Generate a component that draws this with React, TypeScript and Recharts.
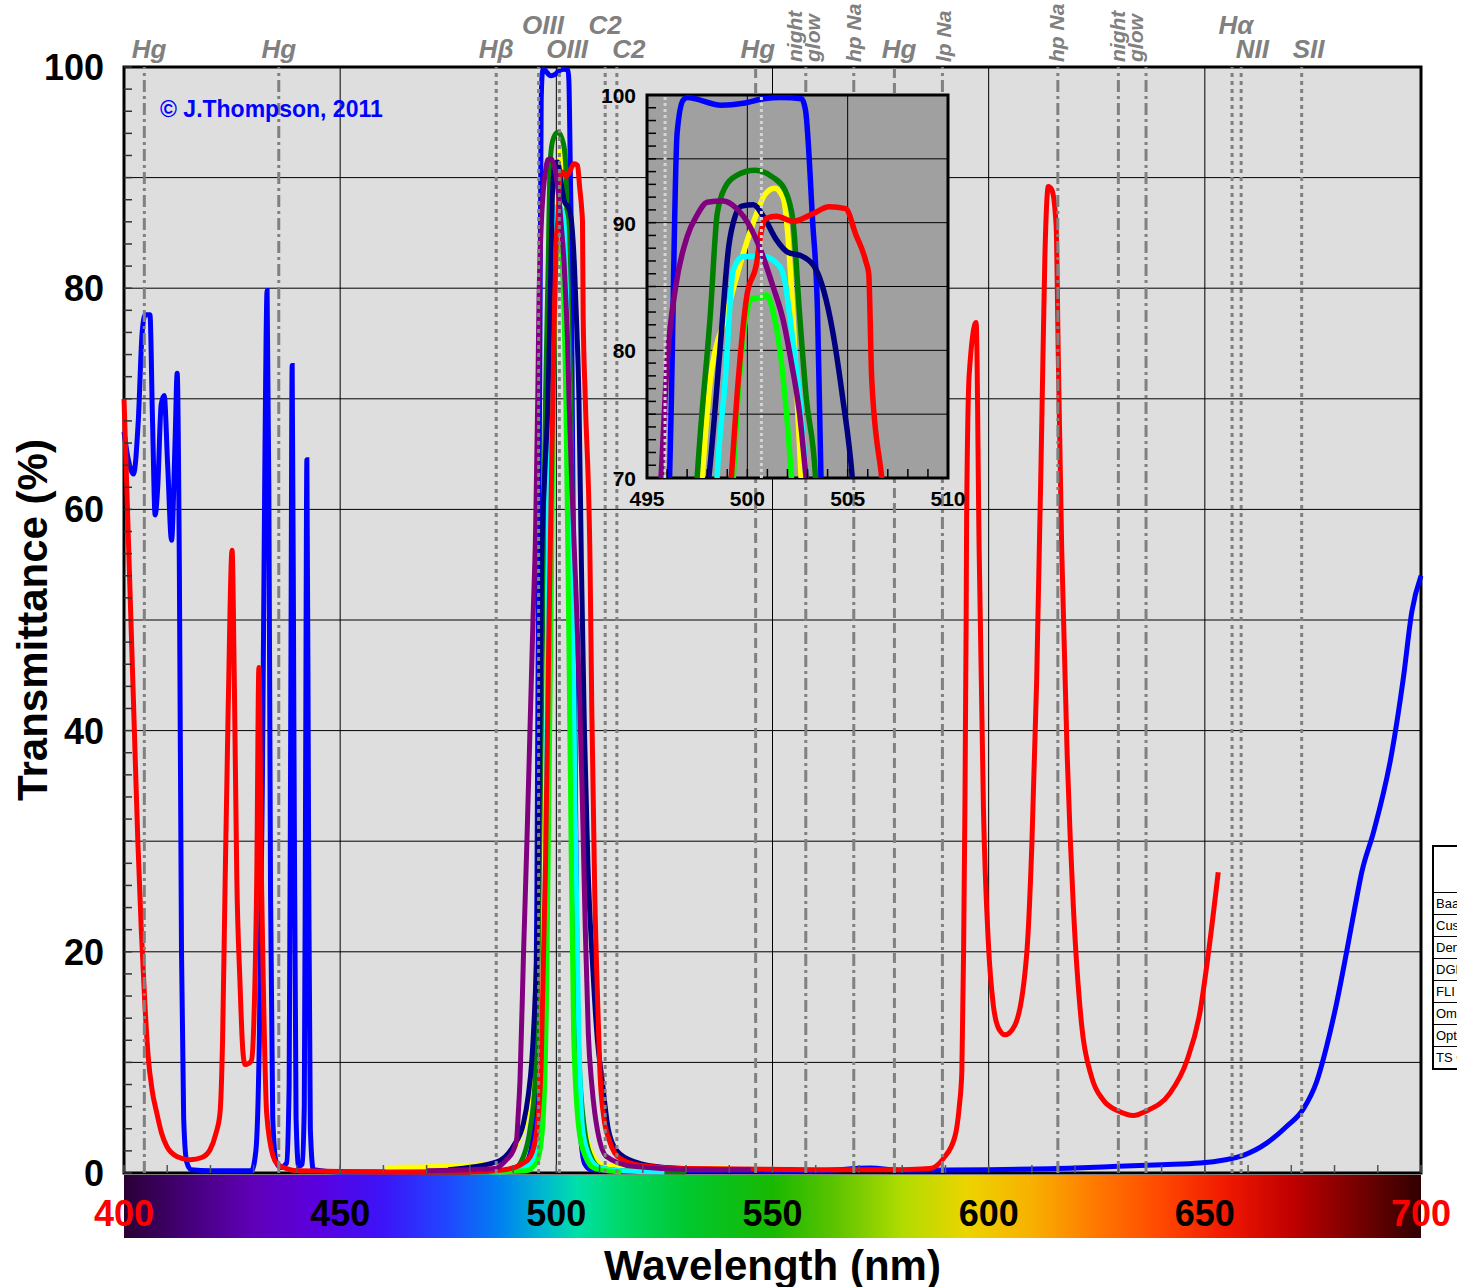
import React from 'react';
import {
  LineChart,
  Line,
  XAxis,
  YAxis,
  CartesianGrid,
  ReferenceLine,
  ReferenceArea,
  Legend,
} from 'recharts';

type Pt = [number, number];

// transmittance curves: [wavelength nm, T %]
const baader: Pt[] = [
  [400, 67], [401, 64.5], [402.2, 63.2], [403.3, 68], [404.2, 76], [404.9, 77.6], [406, 77.6], [406.6, 68],
  [407.2, 59.5], [407.8, 62], [408.6, 69.5], [409.3, 70.3], [410.1, 64], [411, 57.2], [411.8, 66], [412.3, 72.3],
  [412.8, 55], [413.3, 20], [413.8, 5], [414.5, 1], [415.5, 0.3], [420, 0.2], [429.5, 0.2], [430.5, 2],
  [431.3, 12], [432, 35], [432.6, 65], [433.1, 79.8], [433.5, 62], [433.9, 25], [434.4, 5], [435.2, 1],
  [436.2, 0.5], [437.6, 0.9], [438.2, 8], [438.6, 45], [438.9, 73], [439.3, 40], [439.8, 5], [440.4, 0.6],
  [441.2, 0.8], [441.7, 6], [442, 35], [442.3, 64.5], [442.7, 30], [443.1, 4], [443.8, 0.3], [450, 0.1],
  [485, 0.1], [490, 0.2], [492.5, 0.5], [493.5, 1.2], [494.5, 3], [495.1, 8], [495.5, 25], [495.9, 55],
  [496.2, 75], [496.5, 97], [496.8, 99.6], [497, 99.8], [498.7, 99.2], [499.8, 99.35], [500.8, 99.7],
  [501.7, 99.8], [502.7, 99.7], [502.9, 98.8], [503.25, 90.2], [503.5, 82.9], [503.67, 70], [504, 55],
  [504.4, 35], [504.8, 18], [505.2, 8], [505.7, 3], [506.6, 0.8], [508, 0.3], [520, 0.2], [560, 0.2],
  [572.6, 0.45], [580, 0.25], [600, 0.3], [620, 0.45], [630, 0.6], [640, 0.75], [648.9, 0.9], [658.9, 1.6],
  [664.3, 2.7], [668.9, 4.2], [672.8, 5.8], [675.9, 8.3], [678.2, 11.5], [680.5, 15.4], [682.8, 20],
  [684.7, 24], [686.3, 27.2], [689, 30.8], [693.2, 37.9], [695.9, 44.7], [697.9, 50.8], [700, 54],
];

const customSci: Pt[] = [
  [460.4, 0.5], [475, 0.6], [487, 0.9], [489.3, 1.6], [491.6, 3.3], [493.5, 6], [495, 12], [496.3, 30],
  [497.2, 55], [497.75, 70], [498.16, 77.7], [498.98, 82.9], [499.8, 87.6], [500.46, 90.7], [500.87, 92.2],
  [501.37, 92.7], [501.8, 91.9], [502, 89.4], [502.27, 82.9], [502.68, 70], [503.2, 50], [503.8, 30],
  [504.5, 15], [505.5, 7], [506.8, 3.6], [508.6, 1.5], [511, 0.7], [520, 0.5], [540, 0.5],
];

const denkmeier: Pt[] = [
  [470, 0.1], [485, 0.1], [490, 0.3], [492.4, 1.5], [493.9, 3.9], [495.1, 8.4], [495.8, 20], [496.5, 40],
  [497, 55], [497.5, 70], [498.16, 82.9], [498.5, 90.7], [498.9, 92.8], [499.47, 93.7], [500.38, 94.1],
  [501.28, 93.55], [501.86, 92.6], [502.27, 90.2], [502.6, 82.9], [502.93, 76.4], [503.4, 70], [503.8, 55],
  [504.2, 35], [504.6, 20], [505.3, 10], [506.5, 4], [508, 1.5], [510, 0.5], [515, 0.2], [530, 0.1],
];

const dgm: Pt[] = [
  [480, 0.1], [487, 0.1], [493.1, 0.6], [495.1, 1.5], [496.2, 5.4], [496.7, 8.4], [497.3, 20], [497.9, 45],
  [498.2, 60], [498.49, 70], [498.9, 77.7], [499.3, 86.3], [499.8, 87.35], [500.8, 87.35], [501.6, 86.6],
  [501.86, 85.5], [502.2, 81.6], [502.6, 76.4], [502.93, 70], [503.7, 55], [504.3, 34], [505.2, 12.6],
  [506.2, 3.6], [508, 1.2], [510, 0.5], [515, 0.2], [525, 0.1],
];

const fli: Pt[] = [
  [485, 0.1], [493, 0.2], [495.5, 1], [496.8, 4], [497.7, 15], [498.3, 35], [498.9, 55], [499.3, 70],
  [499.6, 77.7], [499.97, 82.9], [500.2, 84], [500.8, 84.2], [500.95, 84.35], [501.3, 82.9], [501.6, 80.3],
  [501.95, 75.1], [502.2, 70], [502.7, 55], [503.3, 34], [504, 12.6], [505.2, 4], [506.7, 1.5],
  [508.9, 0.4], [515, 0.1],
];

const omega: Pt[] = [
  [475, 0.3], [486.2, 1], [490, 2.4], [492.4, 4.5], [493.5, 7], [494.3, 10], [495, 15], [495.6, 22],
  [496.2, 40], [496.6, 55], [497.3, 63], [498.08, 70], [498.65, 80.3], [499.07, 88.1], [499.39, 90.5],
  [499.72, 91.3], [500.3, 91.4], [500.8, 90.5], [501.45, 88.65], [502, 87.7], [502.76, 87.35], [503.4, 86.4],
  [504.24, 81.6], [504.74, 76.4], [505.23, 70], [505.8, 55], [506.5, 40], [507.3, 28], [508.5, 18],
  [509.5, 12], [510.6, 8.4], [512, 4], [514, 2], [518.2, 1], [525, 0.5], [541, 0.3], [548, 0.3],
];

const optolong: Pt[] = [
  [400, 70], [400.8, 60], [401.6, 50], [402.4, 40], [403.2, 30], [404, 22], [404.8, 15.5], [405.6, 10.5],
  [406.5, 7.5], [407.6, 5.4], [408.7, 3.6], [409.9, 2.4], [412.2, 1.5], [415.3, 1.2], [418, 1.4], [419.9, 2.1],
  [421.2, 3.5], [422.2, 5.4], [422.8, 12], [423.4, 26.5], [424.1, 42], [425, 56.3], [425.5, 45], [426.1, 26.5],
  [426.8, 17.5], [427.5, 11], [428, 9.8], [428.8, 9.9], [429.5, 10.2], [430.1, 14.5], [430.7, 26.5],
  [431.2, 45.7], [431.8, 26.5], [432.2, 17.5], [433, 5.4], [434.5, 1.5], [435.5, 0.8], [437.6, 0.4],
  [440, 0.2], [460, 0.1], [480, 0.1], [488, 0.3], [492, 0.8], [494, 1.5], [495.5, 3.9], [496.5, 10],
  [497.5, 28], [498.4, 52], [499.2, 70], [499.55, 77.7], [499.97, 84.2], [500.46, 86.8], [500.7, 89.4],
  [500.95, 90.35], [501.45, 90.5], [502.27, 90.1], [503.26, 90.7], [504.08, 91.25], [504.9, 91.1],
  [505.4, 89.1], [505.9, 87], [506.05, 86], [506.2, 77.7], [506.7, 70], [507.8, 55], [508.2, 42],
  [508.9, 25], [509.6, 15], [510.1, 9], [511, 5], [512.2, 3], [513.5, 1.8], [515.3, 1.2], [518, 0.8],
  [521.7, 0.6], [530, 0.4], [560, 0.3], [580, 0.3], [586.4, 0.4], [589.5, 1.3], [592.2, 3.3], [593.2, 6],
  [593.8, 9.2], [594.2, 20], [594.5, 32.8], [594.8, 50.5], [594.9, 59.2], [595.5, 72.2], [597.1, 76.9],
  [597.8, 56.3], [598.8, 32.8], [599.9, 21], [601.1, 15.1], [602.4, 13], [603.8, 12.5], [606.1, 13.4],
  [608.8, 19.8], [610, 29.8], [611.1, 44.5], [612.3, 68.1], [613, 82.8], [613.8, 89.2], [614.6, 88.9],
  [615.6, 85.7], [616.1, 73.9], [616.9, 56.3], [618.1, 38.6], [619.6, 24], [621.5, 13.4], [623.8, 8.7],
  [626.5, 6.6], [630, 5.6], [633.5, 5.2], [636.5, 5.6], [641.9, 7.2], [645.8, 10.1], [648.9, 14.6],
  [650.8, 19.8], [653.1, 27.2],
];

const tsOiii: Pt[] = [
  [470, 0.2], [480, 0.3], [485.8, 0.4], [488.5, 1.2], [490, 2], [490.8, 3], [491.2, 5.4], [491.6, 8.4],
  [492.4, 19.7], [493.2, 30], [493.9, 40], [494.6, 50], [495.2, 58], [495.7, 70], [496, 79], [496.43, 85],
  [497, 88.9], [497.5, 90.6], [497.99, 91.6], [498.8, 91.7], [499.47, 91.1], [500.13, 89.7], [500.6, 88.1],
  [501.28, 85], [501.78, 82.4], [502.2, 79], [502.6, 75.1], [502.93, 70], [503.6, 62], [504.5, 53],
  [505.3, 44], [506, 34], [506.7, 22], [507.4, 12.6], [508.2, 8], [508.9, 5.4], [509.5, 3.9], [511.6, 1.5],
  [517.8, 0.6], [531.7, 0.3], [545, 0.3],
];

const filterNames = [
  'Baader OIII', 'Custom Scientific OIII', 'Denkmeier OIII', 'DGM OIII',
  'FLI OIII', 'Omega OIII', 'Optolong OIII', 'TS OIII',
];
const filterCurves = [baader, customSci, denkmeier, dgm, fli, omega, optolong, tsOiii];
const filterColors = ['#0000ff', '#ffff00', '#008000', '#00ffff', '#00ff00', '#000080', '#ff0000', '#800080'];

// emission / light-pollution lines
const refWl = [404.7, 435.8, 486.1, 495.9, 500.7, 511.3, 514.0, 546.1, 557.7, 568.8, 578.2, 589.3, 616.0, 630.0, 636.4, 656.3, 658.4, 672.4];
const refKind = ['dd', 'dd', 'dot', 'dot', 'dot', 'dot', 'dot', 'dash', 'dd', 'dd', 'dash', 'dd', 'dd', 'dd', 'dd', 'dot', 'dot', 'dot'];

const tagText = ['Hg', 'Hg', 'Hβ', 'OIII', 'OIII', 'C2', 'C2', 'Hg', 'night glow', 'hp Na', 'Hg', 'lp Na', 'hp Na', 'night glow', 'Hα', 'NII', 'SII'];
const tagWl = [405.8, 435.8, 486.1, 496.9, 502.5, 511.3, 516.8, 546.6, 557.4, 568.8, 579.3, 589.6, 615.8, 632.0, 657.2, 661.0, 674.0];
const tagRow = ['low', 'low', 'low', 'high', 'low', 'high', 'low', 'low', 'rot2', 'rot', 'low', 'rot', 'rot', 'rot2', 'high', 'low', 'low'];

const xLabelTicks = [400, 450, 500, 550, 600, 650, 700];
const yLabelTicks = [0, 20, 40, 60, 80, 100];
const yGrid = [10, 20, 30, 40, 50, 60, 70, 80, 90];
const xGrid = [450, 500, 550, 600, 650];

const insetXLabels = [495, 500, 505, 510];
const insetYLabels = [70, 80, 90, 100];
const insetYGrid = [75, 80, 85, 90, 95];
const insetXGrid = [500, 505];
const insetRefWl = [495.9, 500.7];

const specWl = [400, 415, 430, 445, 460, 475, 487, 497, 505, 515, 530, 550, 565, 580, 595, 610, 625, 640, 655, 670, 685, 700];
const specColor = ['#2a0035', '#45007a', '#6000b8', '#5a00e0', '#3c14f8', '#2048ff', '#0080f0', '#00b8d0', '#00e0a8', '#00d868',
  '#00c830', '#18b800', '#60c400', '#b0dc00', '#ecd400', '#f8b000', '#ff7800', '#ff4800', '#f01800', '#c00000', '#780000', '#300000'];

const range = (a: number, b: number, s: number) => {
  const out: number[] = [];
  for (let v = a; v <= b + 1e-9; v += s) out.push(Math.round(v * 100) / 100);
  return out;
};
const toRows = (pts: Pt[]) => pts.map(([w, t]) => ({ w, t }));

const FONT = '"Liberation Sans", Arial, Helvetica, sans-serif';
const dashMap: Record<string, string> = { dd: '12 4 3 4', dash: '10 5', dot: '4 4' };
const tagFont = { fontSize: 26, fontWeight: 700, fontStyle: 'italic', fill: '#808080', fontFamily: FONT };
const rotFont = { fontSize: 21, fontWeight: 700, fontStyle: 'italic', fill: '#808080', fontFamily: FONT };

const MainYTick = ({ x, y, payload }: any) => {
  const v = payload.value;
  return (
    <g>
      <line x1={x} x2={x + 8} y1={y} y2={y} stroke="#333" strokeWidth={1.5} />
      {yLabelTicks.includes(v) && (
        <text x={x - 20} y={y + 13} textAnchor="end" fontSize={36} fontWeight={700} fill="#000" fontFamily={FONT}>{v}</text>
      )}
    </g>
  );
};

const MainXTick = ({ x, y, payload }: any) => {
  const v = payload.value;
  return (
    <g>
      <line x1={x} x2={x} y1={y} y2={y - 8} stroke="#555" strokeWidth={1.5} />
      {xLabelTicks.includes(v) && (
        <text x={x} y={y + 53} textAnchor="middle" fontSize={36} fontWeight={700}
          fill={v === 400 || v === 700 ? '#ff0000' : '#000'} fontFamily={FONT}>{v}</text>
      )}
    </g>
  );
};

const InsetYTick = ({ x, y, payload }: any) => {
  const v = payload.value;
  return (
    <g>
      <line x1={x} x2={x + 9} y1={y} y2={y} stroke="#000" strokeWidth={1.5} />
      {insetYLabels.includes(v) && (
        <text x={x - 11} y={y + 8} textAnchor="end" fontSize={21} fontWeight={700} fill="#000" fontFamily={FONT}>{v}</text>
      )}
    </g>
  );
};

const InsetXTick = ({ x, y, payload }: any) => {
  const v = payload.value;
  return (
    <g>
      <line x1={x} x2={x} y1={y} y2={y - 9} stroke="#000" strokeWidth={1.5} />
      {insetXLabels.includes(v) && (
        <text x={x} y={y + 28} textAnchor="middle" fontSize={21} fontWeight={700} fill="#000" fontFamily={FONT}>{v}</text>
      )}
    </g>
  );
};

const makeTag = (text: string, row: string) => (props: any) => {
  const x = props.viewBox?.x ?? 0;
  if (row === 'low' || row === 'high') {
    return <text x={x} y={row === 'low' ? 58 : 34} textAnchor="middle" {...tagFont}>{text}</text>;
  }
  const words = row === 'rot2' ? text.split(' ') : [text];
  const cols = words.length === 2 ? [-9, 9] : [0];
  return (
    <g>
      {words.map((w, i) => {
        const bx = x + cols[i] + 7;
        return (
          <text key={i} x={bx} y={62} transform={`rotate(-90 ${bx} 62)`} {...rotFont}>{w}</text>
        );
      })}
    </g>
  );
};

const LegendTable = ({ payload }: any) => {
  const rows = [...(payload || [])].sort(
    (a: any, b: any) => filterNames.indexOf(a.value) - filterNames.indexOf(b.value),
  );
  return (
    <table style={{ borderCollapse: 'collapse', border: '2px solid #000', background: '#fff', fontFamily: FONT, fontSize: 13 }}>
      <tbody>
        <tr><td colSpan={2} style={{ height: 43, border: '1px solid #000' }} /></tr>
        {rows.map((p: any) => (
          <tr key={p.value}>
            <td style={{ height: 21, border: '1px solid #000', padding: '0 2px', whiteSpace: 'nowrap', lineHeight: '21px' }}>{p.value}</td>
            <td style={{ width: 40, border: '1px solid #000' }}>
              <svg width={36} height={10}><line x1={2} x2={34} y1={5} y2={5} stroke={p.color} strokeWidth={4} /></svg>
            </td>
          </tr>
        ))}
      </tbody>
    </table>
  );
};

const spectrum = `linear-gradient(to right, ${specWl
  .map((w, i) => `${specColor[i]} ${((w - 400) / 3).toFixed(2)}%`)
  .join(', ')})`;

export default function App() {
  return (
    <div style={{ position: 'absolute', left: 0, top: 0, width: 1457, height: 1287, overflow: 'hidden', background: '#fff', fontFamily: FONT }}>
      <div style={{ position: 'absolute', left: 124, top: 1175, width: 1297, height: 63, background: spectrum }} />

      <div style={{ position: 'absolute', left: 0, top: 0 }}>
        <LineChart width={1457} height={1287} margin={{ top: 67, right: 36, left: 0, bottom: 0 }}>
          <CartesianGrid fill="#dedede" fillOpacity={1} stroke="#000" strokeWidth={1}
            horizontalValues={yGrid} verticalValues={xGrid} />
          <XAxis type="number" dataKey="w" domain={[400, 700]} ticks={range(400, 700, 10)} interval={0}
            height={114} tickSize={0} tickMargin={0} axisLine={false} tickLine={false} tick={MainXTick}
            label={(p: any) => (
              <text x={p.viewBox.x + p.viewBox.width / 2} y={p.viewBox.y + 107} textAnchor="middle"
                fontSize={42} fontWeight={700} fill="#000" fontFamily={FONT}>Wavelength (nm)</text>
            )} />
          <YAxis type="number" domain={[0, 100]} ticks={range(0, 100, 2)} interval={0} width={124}
            tickSize={0} tickMargin={0} axisLine={false} tickLine={false} tick={MainYTick}
            label={(p: any) => {
              const cy = p.viewBox.y + p.viewBox.height / 2;
              return (
                <text x={47} y={cy} transform={`rotate(-90 47 ${cy})`} textAnchor="middle"
                  fontSize={42} fontWeight={700} fill="#000" fontFamily={FONT}>Transmittance (%)</text>
              );
            }} />
          <ReferenceArea x1={400} x2={700} y1={0} y2={100} fill="none" stroke="#000" strokeWidth={3} />
          {filterCurves.map((c, i) => (
            <Line key={filterNames[i]} name={filterNames[i]} data={toRows(c)} dataKey="t" type="monotone"
              stroke={filterColors[i]} strokeWidth={5} dot={false} activeDot={false} isAnimationActive={false} />
          ))}
          {refWl.map((w, i) => (
            <ReferenceLine key={'r' + i} x={w} stroke="#808080" strokeWidth={3} strokeDasharray={dashMap[refKind[i]]} />
          ))}
          {tagWl.map((w, i) => (
            <ReferenceLine key={'t' + i} x={w} stroke="none" strokeOpacity={0} label={makeTag(tagText[i], tagRow[i])} />
          ))}
          <Legend layout="vertical" align="center" verticalAlign="middle"
            wrapperStyle={{ position: 'absolute', left: 1432, top: 845, width: 260 }}
            content={(p: any) => <LegendTable payload={p.payload} />} />
        </LineChart>
      </div>

      <div style={{ position: 'absolute', left: 160, top: 96, color: '#0000ff', fontWeight: 700, fontSize: 23, lineHeight: 'normal', whiteSpace: 'nowrap' }}>
        © J.Thompson, 2011
      </div>

      <div style={{ position: 'absolute', left: 590, top: 80 }}>
        <LineChart width={400} height={440} margin={{ top: 15, right: 42, left: 0, bottom: 0 }}>
          <CartesianGrid fill="#a0a0a0" fillOpacity={1} stroke="#000" strokeWidth={1}
            horizontalValues={insetYGrid} verticalValues={insetXGrid} />
          <XAxis type="number" dataKey="w" domain={[495, 510]} allowDataOverflow ticks={range(495, 510, 1)} interval={0}
            height={42} tickSize={0} tickMargin={0} axisLine={false} tickLine={false} tick={InsetXTick} />
          <YAxis type="number" domain={[70, 100]} allowDataOverflow ticks={range(70, 100, 1)} interval={0} width={57}
            tickSize={0} tickMargin={0} axisLine={false} tickLine={false} tick={InsetYTick} />
          {filterCurves.map((c, i) => (
            <Line key={filterNames[i]} name={filterNames[i]} data={toRows(c)} dataKey="t" type="monotone"
              stroke={filterColors[i]} strokeWidth={5.5} dot={false} activeDot={false} isAnimationActive={false} />
          ))}
          {insetRefWl.map((w) => (
            <ReferenceLine key={w} x={w} stroke="#d4d4d4" strokeWidth={3} strokeDasharray="3 3" />
          ))}
          <ReferenceArea x1={495} x2={510} y1={70} y2={100} fill="none" stroke="#000" strokeWidth={3} />
        </LineChart>
      </div>
    </div>
  );
}
